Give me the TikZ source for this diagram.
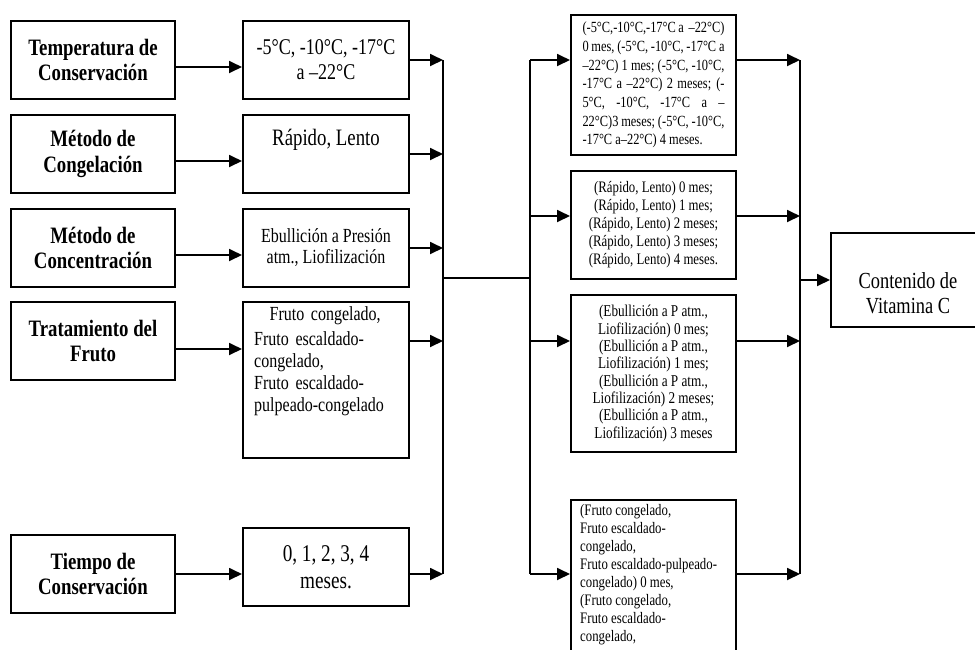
\documentclass[tikz,border=0pt]{standalone}
\usepackage{fontspec}
\setmainfont[FakeStretch=0.8]{Liberation Serif}
\usetikzlibrary{arrows.meta, positioning}
\newcommand{\jline}[1]{\makebox[142pt][s]{#1}\\}

\begin{document}
\begin{tikzpicture}[x=1pt, y=-1pt,
        factor/.style={draw, line width=2pt, minimum width=164pt, minimum height=78pt, align=center, inner sep=2pt, font=\bfseries\fontsize{23.5}{25.5}\selectfont},
        level/.style={draw, line width=2pt, minimum width=166pt, minimum height=78pt, align=center, inner sep=2pt},
        combo/.style={draw, line width=2pt, minimum width=165pt, align=center, inner sep=2pt, font=\fontsize{16}{18}\selectfont},
        arr/.style={line width=1.8pt, -{Triangle[length=13pt, width=12pt]}},
        wire/.style={line width=1.8pt}
    ]
    \useasboundingbox (0,0) rectangle (975,649);
    \clip (0,0) rectangle (975,649);

        % factores
        \node[factor, anchor=north west] (tc) at (10,20) {Temperatura de\\Conservación};
        \node[factor, below=14pt of tc] (mc) {Método de\\Congelación};
        \node[factor, below=14pt of mc] (mcon) {Método de\\Concentración};
        \node[factor, below=13pt of mcon] (tf) {Tratamiento del\\Fruto};
        \node[factor, below=153pt of tf] (tcons) {Tiempo de\\Conservación};

        % niveles
        \node[level, right=66pt of tc, font=\fontsize{22.5}{25}\selectfont] (m1) {-5°C, -10°C, -17°C\\a –22°C};
        \node[level, right=66pt of mc, font=\fontsize{23.5}{25}\selectfont] (m2) {Rápido, Lento\\\strut};
        \node[level, right=66pt of mcon, font=\fontsize{20}{21}\selectfont] (m3) {Ebullición a Presión\\atm., Liofilización};
        \node[level, minimum height=156pt, right=66pt of tf.north east, anchor=north west] (m4) {};
        \node[anchor=north west, inner sep=0pt, text width=142pt, align=left, font=\fontsize{20}{22}\selectfont] (m4t) at ([xshift=12pt, yshift=-5pt]m4.north west) {\makebox[142pt][c]{Fruto congelado,}\\[3pt]Fruto escaldado-\\congelado,\\Fruto escaldado-\\pulpeado-congelado};
        \node[level, right=66pt of tcons, yshift=7pt, font=\fontsize{24}{27}\selectfont] (m5) {0, 1, 2, 3, 4\\meses.};

        % combinaciones
        \node[combo, anchor=north west, minimum height=140pt, inner xsep=11.5pt, align=left, font=\fontsize{15.5}{18.7}\selectfont] (r1) at (570,14) {\jline{(-5°C,-10°C,-17°C a\ \ –22°C)}\jline{0 mes, (-5°C, -10°C, -17°C a}\jline{–22°C) 1 mes; (-5°C, -10°C,}\jline{-17°C a –22°C) 2 meses; (-}\jline{5°C, -10°C, -17°C a –}\jline{22°C)3 meses; (-5°C, -10°C,}-17°C a–22°C) 4 meses.};
        \node[combo, anchor=north west, minimum height=108pt] (r2) at (570,170) {(Rápido, Lento) 0 mes;\\(Rápido, Lento) 1 mes;\\(Rápido, Lento) 2 meses;\\(Rápido, Lento) 3 meses;\\(Rápido, Lento) 4 meses.};
        \node[combo, anchor=north west, minimum height=157pt, font=\fontsize{16.5}{17.3}\selectfont] (r3) at (570,294) {(Ebullición a P atm.,\\Liofilización) 0 mes;\\(Ebullición a P atm.,\\Liofilización) 1 mes;\\(Ebullición a P atm.,\\Liofilización) 2 meses;\\(Ebullición a P atm.,\\Liofilización) 3 meses};
        \node[combo, anchor=north west, minimum height=200pt] (r4) at (570,499) {};
        \node[anchor=north west, inner sep=0pt, align=left, font=\fontsize{16}{18}\selectfont] (r4t) at ([xshift=10pt, yshift=-5pt]r4.north west) {(Fruto congelado,\\Fruto escaldado-\\congelado,\\Fruto escaldado-pulpeado-\\congelado) 0 mes,\\(Fruto congelado,\\Fruto escaldado-\\congelado,};

        % respuesta
        \node[draw, line width=2pt, minimum width=154pt, minimum height=94pt, anchor=north west, align=center, font=\fontsize{23}{25}\selectfont] (vit) at (830,232) {\strut\\Contenido de\\Vitamina C};

        % buses
        \coordinate (bus1) at (443,60);
        \coordinate (bus1end) at (443,574);
        \coordinate (join) at (443,278);
        \coordinate (bus2) at (530,60);
        \coordinate (bus2end) at (530,574);
        \coordinate (s2) at (530,216);
        \coordinate (s3) at (530,341);
        \coordinate (bus3) at (800,60);
        \coordinate (bus3end) at (800,574);
        \path ([yshift=-8pt]tf.east) coordinate (tfout);

        \foreach \a/\b in {tc/m1, mc/m2, mcon/m3}
            \draw[arr] ([yshift=-7pt]\a.east) -- ([yshift=-7pt]\b.west);
        \draw[arr] (tfout) -- (tfout -| m4.west);
        \draw[arr] (tcons.east) -- (tcons.east -| m5.west);

        \foreach \b in {m1, m2, m3}
            \draw[arr] (\b.east) -- (\b.east -| bus1);
        \draw[arr] (m4.east |- tf) -- (bus1 |- tf);
        \draw[arr] (m5.east |- tcons) -- (bus1 |- tcons);
        \draw[wire] (bus1) -- (bus1end);
        \draw[wire] (join) -- (join -| bus2);
        \draw[wire] (bus2) -- (bus2end);

        \draw[arr] (bus2) -- (bus2 -| r1.west);
        \draw[arr] (s2) -- (s2 -| r2.west);
        \draw[arr] (s3) -- (s3 -| r3.west);
        \draw[arr] (bus2end) -- (bus2end -| r4.west);

        \draw[arr] (bus2 -| r1.east) -- (bus3);
        \draw[arr] (s2 -| r2.east) -- (s2 -| bus3);
        \draw[arr] (s3 -| r3.east) -- (s3 -| bus3);
        \draw[arr] (bus2end -| r4.east) -- (bus3end);
        \draw[wire] (bus3) -- (bus3end);
        \draw[arr] (bus3 |- vit) -- (vit.west);
    \end{tikzpicture}
\end{document}
